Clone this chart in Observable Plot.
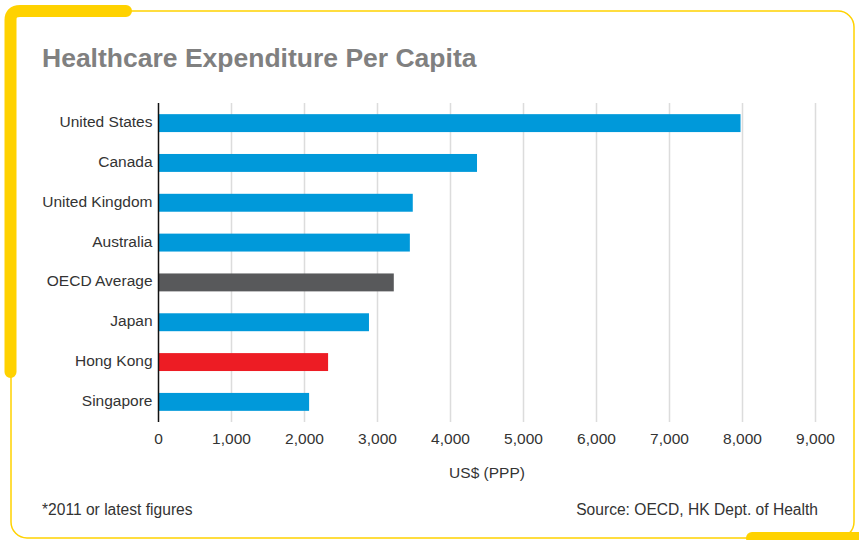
<!DOCTYPE html>
<html>
<head>
<meta charset="utf-8">
<script src="https://cdn.jsdelivr.net/npm/d3@7"></script>
<script src="https://cdn.jsdelivr.net/npm/@observablehq/plot@0.6"></script>
<style>
  html, body { margin: 0; padding: 0; background: #fff; }
  #wrap { position: relative; width: 859px; height: 540px; overflow: hidden; font-family: "Liberation Sans", Arial, Helvetica, sans-serif; }
  #frame { position: absolute; left: 0; top: 0; }
  #title { position: absolute; left: 42px; top: 44.6px; font-size: 26.5px; line-height: 26.5px; font-weight: bold; color: #808080; white-space: nowrap; }
  #chart { position: absolute; left: 0; top: 0; }
  .foot { position: absolute; top: 502px; font-size: 15.6px; line-height: 15.6px; color: #333; white-space: nowrap; }
  #note { left: 42px; }
  #source { right: 41px; }
</style>
</head>
<body>
<div id="wrap">
  <svg id="frame" width="859" height="540">
    <rect x="11" y="11" width="843" height="527" rx="16" ry="16" fill="none" stroke="#FFD200" stroke-width="1.5"/>
    <path d="M 126 11 H 20 Q 10.5 11 10.5 20 V 372" fill="none" stroke="#FFD200" stroke-width="12" stroke-linecap="round" stroke-linejoin="round"/>
    <path d="M 752 538 H 870" fill="none" stroke="#FFD200" stroke-width="12" stroke-linecap="round"/>
  </svg>
  <div id="title">Healthcare Expenditure Per Capita</div>
  <div id="chart"></div>
  <div class="foot" id="note">*2011 or latest figures</div>
  <div class="foot" id="source">Source: OECD, HK Dept. of Health</div>
</div>
<script>
const countries = ["United States", "Canada", "United Kingdom", "Australia", "OECD Average", "Japan", "Hong Kong", "Singapore"];
const spending = [7980, 4370, 3490, 3450, 3230, 2890, 2330, 2070];
const groups = ["country", "country", "country", "country", "average", "country", "highlight", "country"];
const xTicks = [0, 1000, 2000, 3000, 4000, 5000, 6000, 7000, 8000, 9000];
const gridTicks = [1000, 2000, 3000, 4000, 5000, 6000, 7000, 8000, 9000];
const groupNames = ["country", "average", "highlight"];
const groupColors = ["#0099da", "#58595b", "#ed1c24"];

const data = countries.map((c, i) => ({country: c, value: spending[i], group: groups[i]}));

const chart = Plot.plot({
  width: 859,
  height: 540,
  marginTop: 103,
  marginBottom: 118,
  marginLeft: 158,
  marginRight: 44,
  style: {fontFamily: "'Liberation Sans', Arial, Helvetica, sans-serif", fontSize: "15.5px", color: "#333", background: "transparent"},
  x: {domain: [0, 9000]},
  y: {domain: countries, paddingInner: 0.55, paddingOuter: 0.28, round: false},
  color: {domain: groupNames, range: groupColors},
  marks: [
    Plot.ruleX(gridTicks, {stroke: "#dcdcdc", strokeWidth: 1.5, strokeOpacity: 1}),
    Plot.barX(data, {x: "value", y: "country", fill: "group"}),
    Plot.ruleX([0], {stroke: "#111", strokeWidth: 1.5, strokeOpacity: 1}),
    Plot.axisX(xTicks, {tickSize: 0, tickPadding: 10, tickFormat: d3.format(","), label: "US$ (PPP)", labelAnchor: "center", labelArrow: "none", labelOffset: 55}),
    Plot.axisY({tickSize: 0, tickPadding: 6, label: null, dy: -1.5})
  ]
});
document.getElementById("chart").appendChild(chart);
</script>
</body>
</html>
